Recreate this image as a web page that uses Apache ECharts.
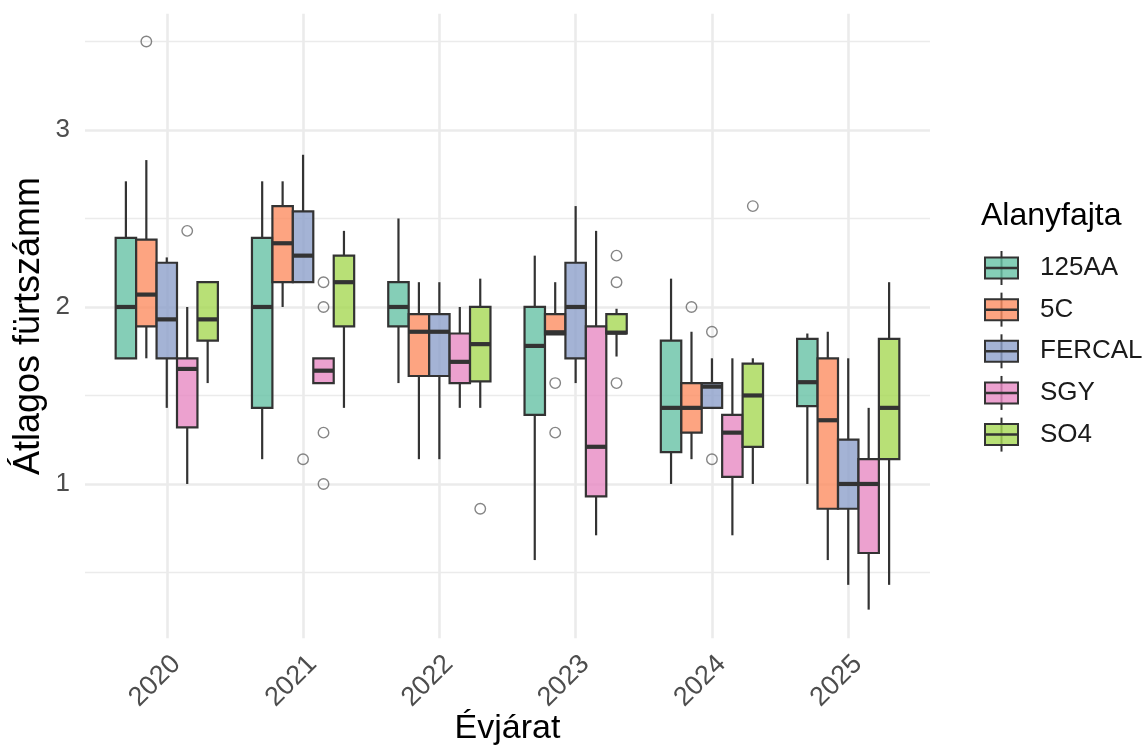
<!DOCTYPE html>
<html><head><meta charset="utf-8">
<script src="https://cdn.jsdelivr.net/npm/echarts@6/dist/echarts.min.js"></script>
<style>html,body{margin:0;padding:0;background:#fff}#c{width:1148px;height:751px}</style>
</head><body><div id="c"></div>
<script>
// ---- data ----
const years = ['2020', '2021', '2022', '2023', '2024', '2025'];
const groups = ['125AA', '5C', 'FERCAL', 'SGY', 'SO4'];
const colors = ['#66C2A5', '#FC8D62', '#8DA0CB', '#E78AC3', '#A6D854'];
// [min, Q1, median, Q3, max] per year
const box125AA = [[1.71,1.71,2.00,2.39,2.71],[1.14,1.43,2.00,2.39,2.71],[1.57,1.89,2.00,2.14,2.50],[0.57,1.39,1.78,2.00,2.29],[1.00,1.18,1.43,1.81,2.16],[1.00,1.44,1.575,1.82,1.85]];
const box5C    = [[1.71,1.89,2.07,2.38,2.83],[2.00,2.14,2.36,2.57,2.71],[1.14,1.61,1.86,1.96,2.14],[1.845,1.845,1.857,1.96,2.14],[1.14,1.29,1.43,1.57,1.86],[0.57,0.86,1.36,1.71,1.86]];
const boxFERCAL= [[1.43,1.71,1.93,2.25,2.28],[2.14,2.14,2.29,2.54,2.86],[1.14,1.61,1.86,1.96,2.14],[1.57,1.71,2.00,2.25,2.57],[1.43,1.43,1.55,1.57,1.71],[0.43,0.86,1.00,1.25,1.71]];
const boxSGY   = [[1.00,1.32,1.65,1.71,2.00],[1.57,1.57,1.64,1.71,1.71],[1.43,1.57,1.69,1.85,2.00],[0.71,0.93,1.21,1.89,2.43],[0.71,1.04,1.29,1.39,1.71],[0.29,0.61,1.00,1.14,1.43]];
const boxSO4   = [[1.57,1.81,1.93,2.14,2.14],[1.43,1.89,2.14,2.29,2.43],[1.43,1.58,1.79,2.00,2.16],[1.72,1.85,1.855,1.96,1.99],[1.00,1.21,1.50,1.68,1.71],[0.43,1.14,1.43,1.82,2.14]];
// outliers: [yearIndex, groupIndex, value]
const outliers = [[0,1,3.50],[0,3,2.43],[1,2,1.14],[1,3,2.14],[1,3,2.00],[1,3,1.29],[1,3,1.00],[2,4,0.86],[3,1,1.57],[3,1,1.29],[3,4,2.29],[3,4,2.14],[3,4,1.57],[4,1,2.00],[4,2,1.86],[4,2,1.14],[4,4,2.57]];
const yMajor = [1, 2, 3];
const yMinor = [0.5, 1.5, 2.5, 3.5];

// ---- chart ----
const boxes = [box125AA, box5C, boxFERCAL, boxSGY, boxSO4];
const dodge = 0.15, halfW = 0.075;
function rgba(hex, a) {
  const n = parseInt(hex.slice(1), 16);
  return 'rgba(' + (n >> 16) + ',' + ((n >> 8) & 255) + ',' + (n & 255) + ',' + a + ')';
}
const ink = '#333333';
const series = boxes.map((b, gi) => ({
  type: 'custom',
  name: groups[gi],
  data: b.map((s, yi) => [yi + (gi - 2) * dodge].concat(s)),
  encode: { x: 0, y: [1, 2, 3, 4, 5] },
  renderItem: function (params, api) {
    const x = api.value(0);
    const mn = api.value(1), q1 = api.value(2), md = api.value(3), q3 = api.value(4), mx = api.value(5);
    const tl = api.coord([x - halfW, q3]);
    const br = api.coord([x + halfW, q1]);
    const top = api.coord([x, mx]);
    const bot = api.coord([x, mn]);
    const m = api.coord([x, md]);
    const cx = api.coord([x, q3])[0];
    const ls = { stroke: ink, lineWidth: 2.2 };
    return {
      type: 'group',
      children: [
        { type: 'line', shape: { x1: cx, y1: top[1], x2: cx, y2: tl[1] }, style: ls },
        { type: 'line', shape: { x1: cx, y1: br[1], x2: cx, y2: bot[1] }, style: ls },
        { type: 'rect', shape: { x: tl[0], y: tl[1], width: br[0] - tl[0], height: br[1] - tl[1] },
          style: { fill: rgba(colors[gi], 0.8), stroke: ink, lineWidth: 2.2 } },
        { type: 'line', shape: { x1: tl[0], y1: m[1], x2: br[0], y2: m[1] }, style: { stroke: ink, lineWidth: 4.2 } }
      ]
    };
  },
  z: 2
}));
series.push({
  type: 'scatter',
  name: 'outliers',
  data: outliers.map(o => [o[0] + (o[1] - 2) * dodge, o[2]]),
  symbol: 'circle',
  symbolSize: 10.5,
  itemStyle: { color: 'rgba(255,255,255,0)', borderColor: '#666666', borderWidth: 1.4 },
  silent: true,
  z: 3
});

// legend drawn from the groups/colors arrays
const legendX = 985, legendW = 33, legendY0 = 268, legendStep = 41.65;
const graphics = [{
  type: 'text', left: 981, top: 200,
  style: { text: 'Alanyfajta', fontSize: 32, fontFamily: 'Liberation Sans', fill: '#000' }
}];
groups.forEach((g, i) => {
  const cy = legendY0 + i * legendStep;
  graphics.push({ type: 'line', shape: { x1: legendX + legendW / 2, y1: cy - 17, x2: legendX + legendW / 2, y2: cy + 17 }, style: { stroke: ink, lineWidth: 2 } });
  graphics.push({ type: 'rect', shape: { x: legendX, y: cy - 10.5, width: legendW, height: 21 }, style: { fill: rgba(colors[i], 0.8), stroke: ink, lineWidth: 2 } });
  graphics.push({ type: 'line', shape: { x1: legendX, y1: cy, x2: legendX + legendW, y2: cy }, style: { stroke: ink, lineWidth: 2.5 } });
  graphics.push({ type: 'text', x: 1040, y: cy, style: { text: g, fontSize: 26, fontFamily: 'Liberation Sans', fill: '#1a1a1a', verticalAlign: 'middle', align: 'left' } });
});

const font = 'Liberation Sans';
const option = {
  backgroundColor: '#fff',
  animation: false,
  textStyle: { fontFamily: font },
  grid: { left: 85, top: 13.7, width: 845, height: 624.6, outerBoundsMode: 'none', containLabel: false },
  xAxis: {
    type: 'value', min: -0.6, max: 5.6,
    name: 'Évjárat', nameLocation: 'middle', nameGap: 73, nameMoveOverlap: false,
    nameTextStyle: { fontSize: 34, color: '#000', fontFamily: font },
    axisLine: { show: false },
    axisTick: { show: false, customValues: [0, 1, 2, 3, 4, 5] },
    axisLabel: { customValues: [0, 1, 2, 3, 4, 5], formatter: v => years[Math.round(v)], rotate: 45, verticalAlign: 'top', margin: 12, fontSize: 27, color: '#4D4D4D', fontFamily: font },
    splitLine: { show: true, lineStyle: { color: '#EBEBEB', width: 2.6 } }
  },
  yAxis: [{
    type: 'value', min: 0.128, max: 3.657,
    name: 'Átlagos fürtszámm', nameLocation: 'middle', nameGap: 38, nameMoveOverlap: false,
    nameTextStyle: { fontSize: 36, color: '#000', fontFamily: font },
    axisLine: { show: false },
    axisTick: { show: false, customValues: yMajor },
    axisLabel: { customValues: yMajor, margin: 15, fontSize: 26, color: '#4D4D4D', fontFamily: font },
    splitLine: { show: true, lineStyle: { color: '#EBEBEB', width: 2.6 } }
  }, {
    type: 'value', min: 0.128, max: 3.657, position: 'left',
    axisLine: { show: false },
    axisTick: { show: false, customValues: yMinor },
    axisLabel: { show: false, customValues: yMinor },
    splitLine: { show: true, lineStyle: { color: '#EBEBEB', width: 1.3 } }
  }],
  series: series,
  graphic: graphics
};
const chart = echarts.init(document.getElementById('c'));
chart.setOption(option);
</script>
</body></html>
